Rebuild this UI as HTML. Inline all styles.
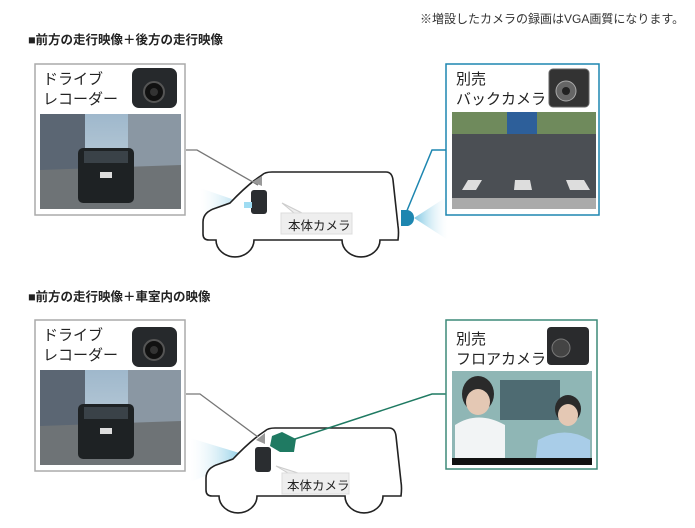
<!DOCTYPE html>
<html><head><meta charset="utf-8"><style>
body{margin:0;width:695px;height:528px;background:#fff;position:relative;overflow:hidden;font-family:"Liberation Sans","Noto Sans CJK JP",sans-serif}
.t{position:absolute;white-space:nowrap;color:#222}
</style></head><body>
<svg width="695" height="528" style="position:absolute;left:0;top:0">
<defs>
<linearGradient id="sky" x1="0" y1="0" x2="0" y2="1"><stop offset="0" stop-color="#9fb8cc"/><stop offset="1" stop-color="#c9d6de"/></linearGradient>
<linearGradient id="coneL" x1="1" y1="0" x2="0" y2="0"><stop offset="0" stop-color="#7cc6e2"/><stop offset="1" stop-color="#e6f4fa" stop-opacity="0"/></linearGradient>
<linearGradient id="coneR" x1="0" y1="0" x2="1" y2="0"><stop offset="0" stop-color="#7cc6e2"/><stop offset="1" stop-color="#e6f4fa" stop-opacity="0"/></linearGradient>
<linearGradient id="coneD" x1="0" y1="0" x2="1" y2="1"><stop offset="0" stop-color="#7cc6e2"/><stop offset="1" stop-color="#e6f4fa" stop-opacity="0"/></linearGradient>
<g id="front">
<rect x="40" y="114" width="141" height="95" fill="url(#sky)"/>
<rect x="40" y="114" width="45" height="60" fill="#5b6673"/>
<rect x="128" y="114" width="53" height="55" fill="#8a97a3"/>
<rect x="85" y="150" width="45" height="25" fill="#5a6a4a"/>
<polygon points="40,170 181,165 181,209 40,209" fill="#6e7376"/>
<rect x="78" y="148" width="56" height="55" rx="5" fill="#1e2224"/>
<rect x="84" y="151" width="44" height="12" fill="#3a4248"/>
<rect x="100" y="172" width="12" height="6" fill="#ddd"/>
</g>
<g id="van">
<path d="M209,240 Q203,240 203,234 L203,222 Q203,212 216,208 L230,203 Q248,184 262,175 Q265,172 272,172 L386,172 Q392,172 393,180 L398,226 Q399,232 398,240 L380,240 A18,16 0 0 1 342,240 L254,240 A18,16 0 0 1 216,240 Z" fill="#fff" stroke="#222" stroke-width="1.6"/>
</g>
</defs>

<!-- TOP SECTION -->
<polygon points="200,188 252,206 252,210 200,232" fill="url(#coneL)"/>
<polygon points="414,218 448,196 448,240" fill="url(#coneR)"/>
<use href="#van"/>
<polyline points="186,150 197,150 258,185" fill="none" stroke="#777" stroke-width="1.3"/>
<polyline points="446,150 432,150 406,213" fill="none" stroke="#1d86b0" stroke-width="1.5"/>
<path d="M401,210 L408,210 Q414,212 414,218 Q414,224 408,226 L401,226 Z" fill="#1d86b0"/>
<polygon points="252,182 262,176 262,186" fill="#999"/>
<rect x="251" y="190" width="16" height="24" rx="3" fill="#2a2d30"/>
<rect x="244" y="202" width="8" height="6" fill="#9fdcf2"/>
<polygon points="282,203 294,213 302,213" fill="#eee" stroke="#ccc"/>
<rect x="281" y="213" width="71" height="21" fill="#eeeeee" stroke="#ddd"/>
<rect x="35" y="64" width="150" height="151" fill="none" stroke="#aaa" stroke-width="1.5"/>
<use href="#front"/>
<rect x="132" y="68" width="45" height="40" rx="7" fill="#26292c"/>
<circle cx="154" cy="92" r="10" fill="#111" stroke="#555" stroke-width="2"/>
<circle cx="154" cy="92" r="4" fill="#333"/>
<rect x="446" y="64" width="153" height="151" fill="#fff" stroke="#1d86b0" stroke-width="1.5"/>
<rect x="452" y="112" width="144" height="97" fill="#4b4f54"/>
<rect x="452" y="112" width="144" height="22" fill="#6f8a5c"/>
<rect x="507" y="112" width="30" height="22" fill="#2d5f9a"/>
<polygon points="462,190 476,190 482,180 468,180" fill="#ddd"/>
<polygon points="514,190 532,190 530,180 515,180" fill="#ddd"/>
<polygon points="570,190 590,190 584,180 566,180" fill="#ddd"/>
<rect x="452" y="198" width="144" height="11" fill="#aaa"/>
<rect x="549" y="69" width="40" height="38" rx="4" fill="#333" stroke="#666"/>
<circle cx="566" cy="91" r="10" fill="#666" stroke="#aaa"/>
<circle cx="566" cy="91" r="4" fill="#222"/>

<!-- BOTTOM SECTION -->
<polygon points="190,438 246,455 246,460 190,482" fill="url(#coneL)"/>
<polygon points="296,450 356,455 325,475" fill="url(#coneD)"/>
<g transform="translate(3,256)"><use href="#van"/></g>
<polygon points="256,440 265,433 265,444" fill="#999"/>
<rect x="255" y="447" width="16" height="25" rx="3" fill="#2a2d30"/>
<polygon points="272,436 282,432 296,439 294,452 280,452 270,446" fill="#1f7a62"/>
<polygon points="276,466 288,473 298,473" fill="#eee" stroke="#ccc"/>
<rect x="282" y="473" width="67" height="21" fill="#eeeeee" stroke="#ddd"/>
<polyline points="186,394 200,394 258,437" fill="none" stroke="#777" stroke-width="1.3"/>
<polyline points="446,394 432,394 292,440" fill="none" stroke="#1f7a62" stroke-width="1.5"/>
<rect x="35" y="320" width="150" height="151" fill="none" stroke="#aaa" stroke-width="1.5"/>
<g transform="translate(0,256)"><use href="#front"/></g>
<rect x="132" y="327" width="45" height="40" rx="7" fill="#26292c"/>
<circle cx="154" cy="350" r="10" fill="#111" stroke="#555" stroke-width="2"/>
<circle cx="154" cy="350" r="4" fill="#333"/>
<rect x="446" y="320" width="151" height="149" fill="#fff" stroke="#3d8a78" stroke-width="1.5"/>
<rect x="452" y="371" width="140" height="94" fill="#8fb6b5"/>
<rect x="500" y="380" width="60" height="40" fill="#4e6b72"/>
<ellipse cx="478" cy="394" rx="16" ry="18" fill="#2a2a2a"/>
<ellipse cx="478" cy="402" rx="12" ry="13" fill="#e4c8b4"/>
<path d="M455,465 L455,425 Q478,410 505,425 L505,465 Z" fill="#f2f4f5"/>
<ellipse cx="568" cy="409" rx="13" ry="14" fill="#2a2a2a"/>
<ellipse cx="568" cy="415" rx="10" ry="11" fill="#e4c8b4"/>
<path d="M535,465 L538,440 Q565,425 590,440 L590,465 Z" fill="#a9cde8"/>
<rect x="452" y="458" width="140" height="7" fill="#111"/>
<rect x="547" y="327" width="42" height="38" rx="4" fill="#2a2b2d"/>
<circle cx="561" cy="348" r="9" fill="#444" stroke="#777"/>
</svg>
<div class="t" style="left:420px;top:10px;font-size:12px;color:#333">※増設したカメラの録画はVGA画質になります。</div>
<div class="t" style="left:28px;top:29px;font-size:12.5px;font-weight:bold">■前方の走行映像＋後方の走行映像</div>
<div class="t" style="left:28px;top:286px;font-size:12.5px;font-weight:bold">■前方の走行映像＋車室内の映像</div>
<div class="t" style="left:43px;top:70px;font-size:15px;line-height:20px">ドライブ<br>レコーダー</div>
<div class="t" style="left:43px;top:326px;font-size:15px;line-height:20px">ドライブ<br>レコーダー</div>
<div class="t" style="left:456px;top:70px;font-size:15px;line-height:20px">別売<br>バックカメラ</div>
<div class="t" style="left:456px;top:330px;font-size:15px;line-height:20px">別売<br>フロアカメラ</div>
<div class="t" style="left:288px;top:215px;font-size:12.5px">本体カメラ</div>
<div class="t" style="left:287px;top:475px;font-size:12.5px">本体カメラ</div>
</body></html>
